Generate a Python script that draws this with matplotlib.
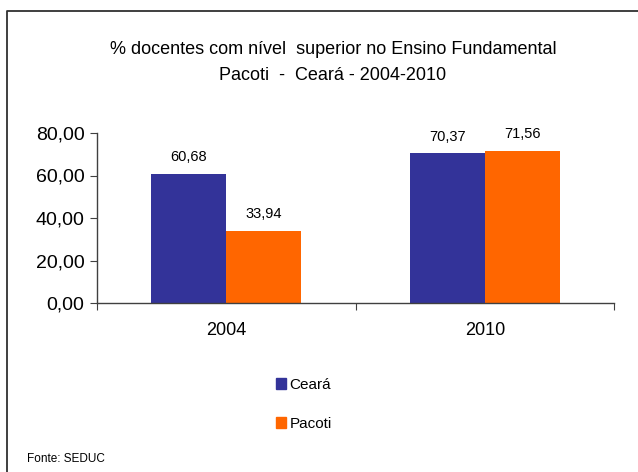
import matplotlib
matplotlib.use("Agg")
import matplotlib.pyplot as plt
from matplotlib.patches import Patch
from matplotlib.lines import Line2D
import numpy as np

categories = ["2004", "2010"]
ceara = [60.68, 70.37]
pacoti = [33.94, 71.56]
ceara_labels = ["60,68", "70,37"]
pacoti_labels = ["33,94", "71,56"]
yticks = [0, 20, 40, 60, 80]
ytick_labels = ["0,00", "20,00", "40,00", "60,00", "80,00"]

plt.rcParams['font.family'] = ['Liberation Sans', 'DejaVu Sans']

fig = plt.figure(figsize=(6.38, 4.72), dpi=100)
W, H = 638, 472
ax = fig.add_axes([97 / W, 1 - 303 / H, (614 - 97) / W, (303 - 133) / H])

x = np.arange(len(categories))
bw = 0.29
b1 = ax.bar(x - bw / 2, ceara, width=bw, color="#333399", label="Ceará")
b2 = ax.bar(x + bw / 2, pacoti, width=bw, color="#FF6600", label="Pacoti")

for rect, lab in zip(b1, ceara_labels):
    ax.annotate(lab, (rect.get_x() + rect.get_width() / 2, rect.get_height()),
                xytext=(0, 7), textcoords="offset points", ha="center", va="bottom", fontsize=10.5)
for rect, lab in zip(b2, pacoti_labels):
    ax.annotate(lab, (rect.get_x() + rect.get_width() / 2, rect.get_height()),
                xytext=(0, 7), textcoords="offset points", ha="center", va="bottom", fontsize=10.5)

ax.set_xlim(-0.5, len(categories) - 0.5)
ax.set_ylim(0, 80)
ax.set_yticks(yticks)
ax.set_yticklabels(ytick_labels, fontsize=14)
ax.set_xticks([-0.5, 0.5, 1.5])
ax.set_xticklabels([])
ax.set_xticks(x, minor=True)
ax.set_xticklabels(categories, minor=True, fontsize=13)
ax.tick_params(axis="x", which="minor", length=0, pad=14)
ax.tick_params(axis="x", which="major", length=5, color="#404040", direction="out")
ax.tick_params(axis="y", length=5, color="#404040", direction="out", pad=4)
for s in ["top", "right"]:
    ax.spines[s].set_visible(False)
for s in ["left", "bottom"]:
    ax.spines[s].set_color("#404040")
    ax.spines[s].set_linewidth(1.0)

fig.text(333 / W, 1 - 49 / H, "% docentes com nível  superior no Ensino Fundamental",
         ha="center", va="center", fontsize=13)
fig.text(333 / W, 1 - 76 / H, "Pacoti  -  Ceará - 2004-2010",
         ha="center", va="center", fontsize=13)

fig.legend(handles=[Patch(color="#333399", label="Ceará"), Patch(color="#FF6600", label="Pacoti")],
           loc="upper left", bbox_to_anchor=(262 / W, 1 - 364 / H), frameon=False,
           fontsize=11, handlelength=0.7, handleheight=0.7, handletextpad=0.2, labelspacing=1.65)

fig.text(27 / W, 1 - 459 / H, "Fonte: SEDUC", ha="left", va="center", fontsize=8.5)

fig.add_artist(Line2D([7 / W, 7 / W, 1.0], [0, 1 - 11 / H, 1 - 11 / H],
                      transform=fig.transFigure, color="#303030", lw=1.3))

fig.savefig("out.png", dpi=100)
